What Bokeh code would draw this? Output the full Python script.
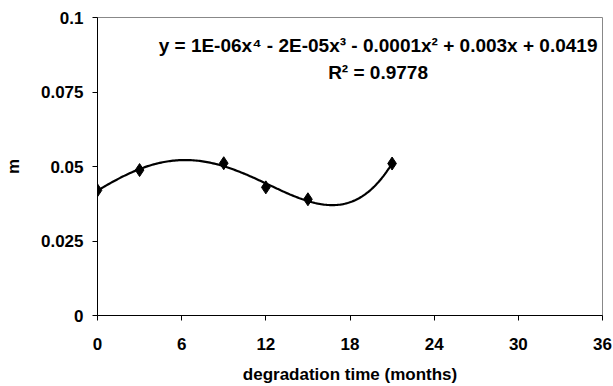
import numpy as np
from bokeh.plotting import figure
from bokeh.models import Range1d, FixedTicker, Label
from bokeh.embed import file_html
from bokeh.resources import INLINE

# data
months = [0, 3, 9, 12, 15, 21]
m_values = [0.042, 0.0488, 0.0511, 0.043, 0.039, 0.051]
x_ticks = [0, 6, 12, 18, 24, 30, 36]
y_ticks = [0, 0.025, 0.05, 0.075, 0.1]
y_tick_labels = {0: "0", 0.025: "0.025", 0.05: "0.05", 0.075: "0.075", 0.1: "0.1"}
equation = "y = 1E-06x\u2074 - 2E-05x\u00b3 - 0.0001x\u00b2 + 0.003x + 0.0419"
r_squared = "R\u00b2 = 0.9778"

# 4th-order polynomial trendline fitted to the data (as the spreadsheet does)
coef = np.polyfit(months, m_values, 4)
fit_x = np.linspace(min(months), max(months), 200)
fit_y = np.polyval(coef, fit_x)

FONT = "Liberation Sans"

p = figure(width=613, height=386, output_backend="svg", toolbar_location=None,
           x_range=Range1d(0, 36), y_range=Range1d(0, 0.1),
           min_border_left=97, min_border_right=11, min_border_top=17, min_border_bottom=70)
p.background_fill_color = "white"
p.border_fill_color = "white"
p.outline_line_color = "#888888"
p.outline_line_width = 1
p.xgrid.visible = False
p.ygrid.visible = False

p.line(fit_x, fit_y, line_color="black", line_width=2.2)
p.scatter(months, m_values, marker="diamond", size=13, fill_color="black", line_color="black")

for ax in (p.xaxis[0], p.yaxis[0]):
    ax.axis_line_color = "black"
    ax.axis_line_width = 1
    ax.major_tick_line_color = "black"
    ax.major_tick_out = 5
    ax.major_tick_in = 0
    ax.minor_tick_line_color = None
    ax.major_label_text_font = FONT
    ax.major_label_text_font_size = "17px"
    ax.major_label_text_font_style = "bold"
    ax.major_label_text_color = "black"
    ax.axis_label_text_font = FONT
    ax.axis_label_text_font_size = "17px"
    ax.axis_label_text_font_style = "bold"
    ax.axis_label_text_color = "black"

p.xaxis[0].ticker = FixedTicker(ticks=x_ticks)
p.xaxis[0].axis_label = "degradation time (months)"
p.xaxis[0].major_label_standoff = 17
p.xaxis[0].axis_label_standoff = 12
p.yaxis[0].ticker = FixedTicker(ticks=y_ticks)
p.yaxis[0].major_label_standoff = 9
p.yaxis[0].major_label_overrides = y_tick_labels
p.yaxis[0].axis_label = "m"
p.yaxis[0].axis_label_standoff = 15

# equation label centred near screen x=377, y=45 (data units)
p.add_layout(Label(x=20.0, y=0.0906, text=equation,
                   text_font=FONT, text_font_size="19px", text_font_style="bold",
                   text_align="center", text_baseline="middle", text_color="black"))
p.add_layout(Label(x=20.0, y=0.0816, text=r_squared,
                   text_font=FONT, text_font_size="19px", text_font_style="bold",
                   text_align="center", text_baseline="middle", text_color="black"))

open("out.html", "w").write(file_html(p, INLINE))
